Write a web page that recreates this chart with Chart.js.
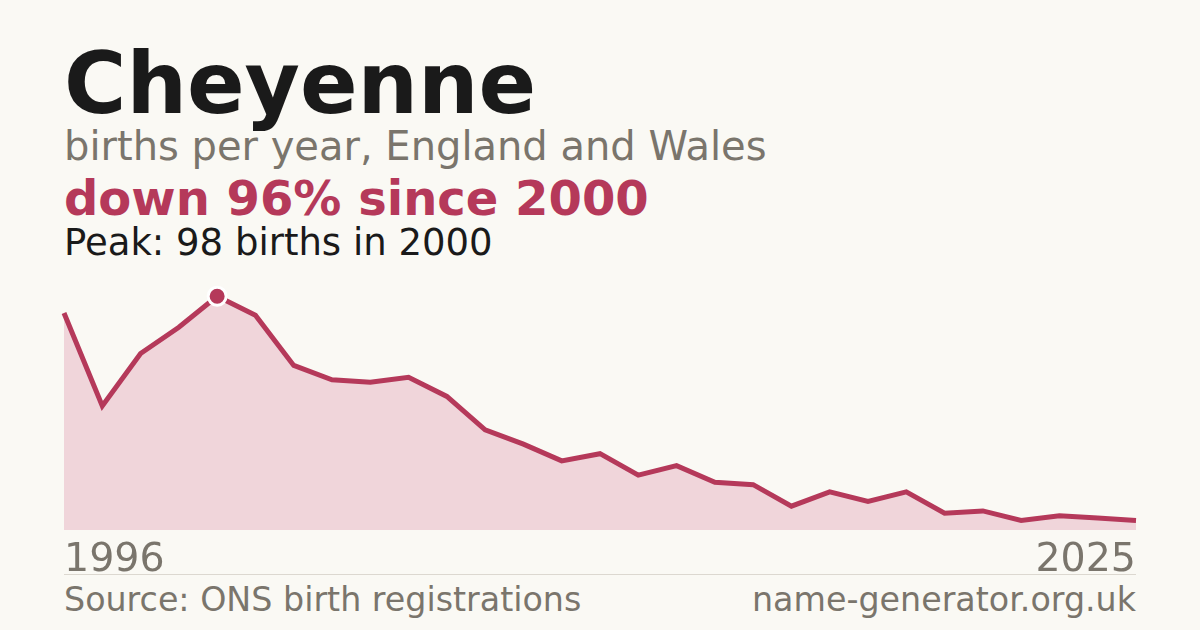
<!DOCTYPE html>
<html>
<head>
<meta charset="utf-8">
<script src="https://cdn.jsdelivr.net/npm/chart.js@4/dist/chart.umd.min.js"></script>
<style>
  html, body { margin:0; padding:0; }
  body { width:1200px; height:630px; background:#faf9f4; position:relative; overflow:hidden;
         font-family:"DejaVu Sans", sans-serif; }
  .t { position:absolute; white-space:nowrap; line-height:1; }
  #title { left:64px; top:41px; font-size:85px; font-weight:700; color:#1a1a1a; }
  #sub { left:64px; top:126px; font-size:40px; color:#7a756c; }
  #change { left:64px; top:174px; font-size:48px; font-weight:700; color:#b5395a; }
  #peak { left:64px; top:224px; font-size:37px; color:#1a1a1a; }
  #yStart { left:64px; top:538px; font-size:39.5px; color:#7a756c; }
  #yEnd { right:64px; top:538px; font-size:39.5px; color:#7a756c; }
  #rule { position:absolute; left:64px; width:1072px; top:574px; height:1px; background:#dcd8d0; }
  #source { left:64px; top:583px; font-size:33.3px; color:#7a756c; }
  #site { right:64px; top:583px; font-size:33.3px; color:#7a756c; }
  #wrap { position:absolute; left:0; top:280px; width:1200px; height:260px; }
</style>
</head>
<body>
<div class="t" id="title"></div>
<div class="t" id="sub"></div>
<div class="t" id="change"></div>
<div class="t" id="peak"></div>
<div id="wrap"><canvas id="chart"></canvas></div>
<div class="t" id="yStart"></div>
<div class="t" id="yEnd"></div>
<div id="rule"></div>
<div class="t" id="source"></div>
<div class="t" id="site"></div>
<script>
'use strict';

// ── data ──────────────────────────────────────────
const NAME = 'Cheyenne';
const years = [1996,1997,1998,1999,2000,2001,2002,2003,2004,2005,2006,2007,2008,2009,2010,
               2011,2012,2013,2014,2015,2016,2017,2018,2019,2020,2021,2022,2023,2024];
const births = [91,52,74,85,98,90,69,63,62,64,56,42,36,29,32,23,27,20,19,10,16,12,16,7,8,4,6,5,4];
const axisLabels = ['1996', '2025'];
const yRange = [0, 100];

const RED  = '#b5395a';
const FILL = '#f0d5da';

// ── headline texts ────────────────────────────────
const peakVal = Math.max(...births);
const peakIdx = births.indexOf(peakVal);
const peakYear = years[peakIdx];
const drop = Math.round((1 - births[births.length-1] / peakVal) * 100);

document.getElementById('title').textContent  = NAME;
document.getElementById('sub').textContent    = 'births per year, England and Wales';
document.getElementById('change').textContent = `down ${drop}% since ${peakYear}`;
document.getElementById('peak').textContent   = `Peak: ${peakVal} births in ${peakYear}`;
document.getElementById('yStart').textContent = axisLabels[0];
document.getElementById('yEnd').textContent   = axisLabels[1];
document.getElementById('source').textContent = 'Source: ONS birth registrations';
document.getElementById('site').textContent   = 'name-generator.org.uk';

// ── chart ─────────────────────────────────────────
new Chart(document.getElementById('chart'), {
  type: 'line',
  data: {
    labels: years,
    datasets: [{
      data: births,
      borderColor: RED,
      borderWidth: 5,
      borderJoinStyle: 'miter',
      backgroundColor: FILL,
      fill: 'origin',
      tension: 0,
      clip: false,
      pointRadius: ctx => ctx.dataIndex === peakIdx ? 9 : 0,
      pointHoverRadius: 0,
      pointBackgroundColor: RED,
      pointBorderColor: '#ffffff',
      pointBorderWidth: 3,
    }]
  },
  options: {
    responsive: true, maintainAspectRatio: false, animation: false,
    layout: { padding: { left:64, right:64, top:11.5, bottom:10 } },
    plugins: { legend:{ display:false }, tooltip:{ enabled:false } },
    scales: {
      x: { display:false, offset:false },
      y: { display:false, min:yRange[0], max:yRange[1] }
    }
  }
});
</script>
</body>
</html>
